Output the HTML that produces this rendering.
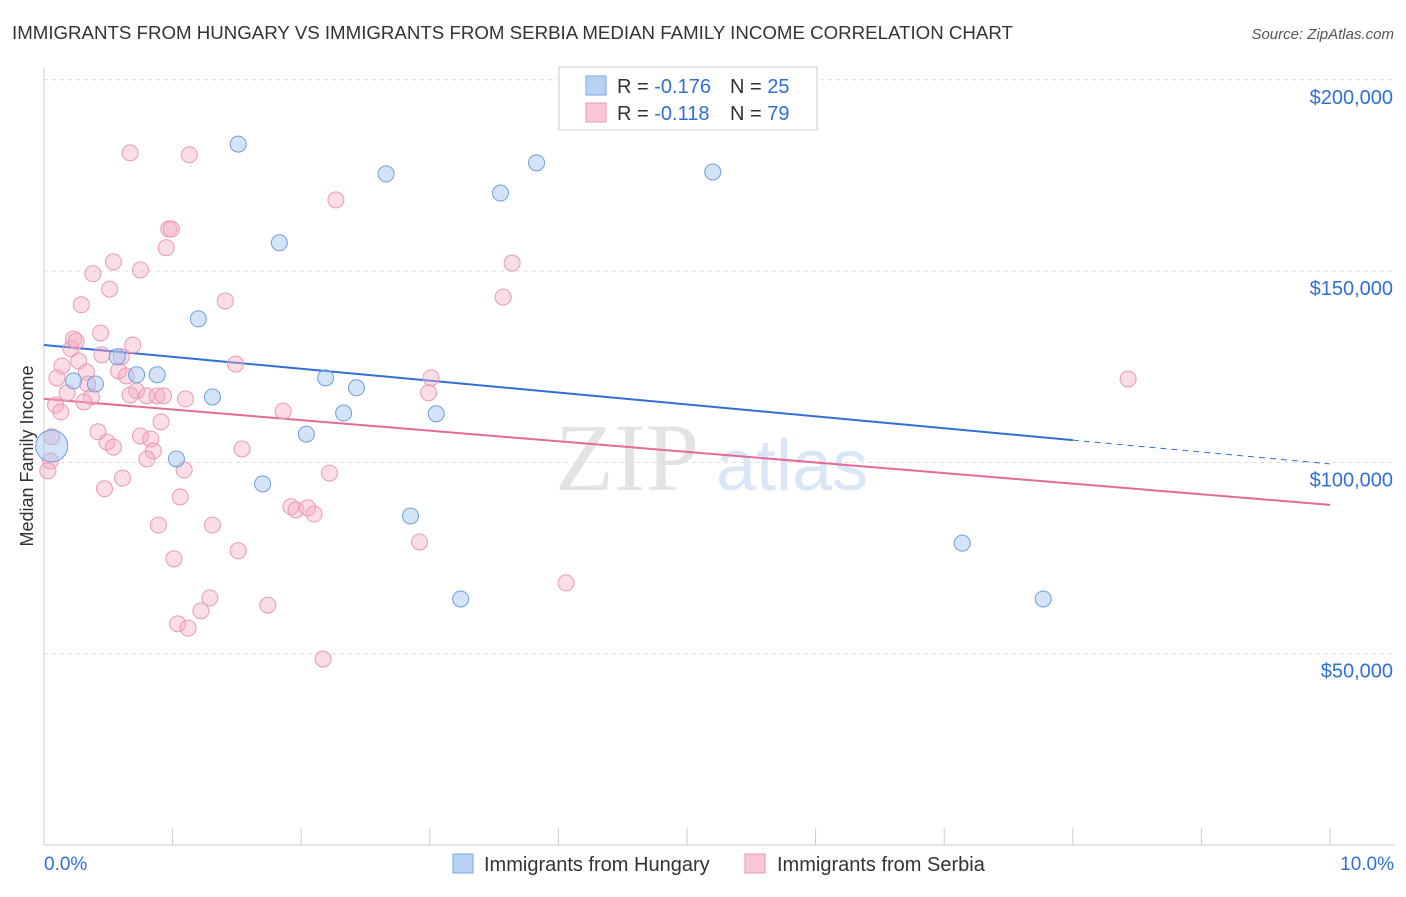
<!DOCTYPE html>
<html><head><meta charset="utf-8">
<style>
html,body{margin:0;padding:0;background:#fff;}
body{width:1406px;height:892px;overflow:hidden;font-family:"Liberation Sans",sans-serif;}
</style></head>
<body>
<svg id="chart" width="1406" height="892" xmlns="http://www.w3.org/2000/svg" font-family="Liberation Sans, sans-serif">
<text x="12" y="39" font-size="18.7" fill="#333">IMMIGRANTS FROM HUNGARY VS IMMIGRANTS FROM SERBIA MEDIAN FAMILY INCOME CORRELATION CHART</text>
<text x="1394" y="39" font-size="15" fill="#555" font-style="italic" text-anchor="end">Source: ZipAtlas.com</text>
<g>
<text x="555" y="490" font-size="96" fill="#ddd" font-family="Liberation Serif, serif" opacity="0.8">ZIP</text>
<text x="716" y="490" font-size="72" fill="#c9dcf3" opacity="0.7">atlas</text>
</g>
<text transform="translate(33,456) rotate(-90)" font-size="18" fill="#333" text-anchor="middle">Median Family Income</text>
<g id="grid"></g>
<g id="axes"></g>
<g id="trends"></g>
<g id="points"></g>
<g>
<rect x="559" y="67" width="258" height="63" fill="#fff" stroke="#ccc"/>
<rect x="586" y="76" width="20" height="19" fill="#b8d2f3" stroke="#7aa6df"/>
<rect x="586" y="103" width="20" height="19" fill="#f9c6d6" stroke="#e995b2"/>
<text x="617" y="93" font-size="20" fill="#333">R = <tspan fill="#2f6fd6">-0.176</tspan><tspan x="730">N = </tspan><tspan fill="#2f6fd6">25</tspan></text>
<text x="617" y="120" font-size="20" fill="#333">R = <tspan fill="#2f6fd6"> -0.118</tspan><tspan x="730">N = </tspan><tspan fill="#2f6fd6">79</tspan></text>
</g>
<g>
<rect x="453" y="854" width="20" height="19" fill="#b8d2f3" stroke="#7aa6df"/>
<text x="484" y="871" font-size="20" fill="#333">Immigrants from Hungary</text>
<rect x="745" y="854" width="20" height="19" fill="#f9c6d6" stroke="#e995b2"/>
<text x="777" y="871" font-size="20" fill="#333">Immigrants from Serbia</text>
</g>
</svg>
<script>
const yTicks = [50000, 100000, 150000, 200000];
const yTickLabels = ["$50,000", "$100,000", "$150,000", "$200,000"];
const xTickLabels = ["0.0%", "10.0%"];
const hungaryX = [1.51,1.83,2.66,3.55,3.83,5.20,1.20,0.57,0.72,0.88,0.23,0.40,1.31,2.19,2.43,2.33,3.05,2.04,1.03,1.70,2.85,3.24,7.14,7.77,0.06];
const hungaryY = [183.2,157.4,175.4,170.4,178.3,175.9,137.5,127.6,122.9,122.9,121.3,120.5,117.1,122.1,119.5,112.9,112.7,107.4,100.9,94.4,86.0,64.3,78.9,64.3,104.3];
const serbiaX = [0.67,1.13,2.27,0.97,0.99,0.95,0.54,0.75,0.38,3.64,0.51,3.57,0.29,1.41,0.44,0.23,0.21,0.25,0.69,0.60,0.45,0.27,0.14,1.49,0.58,0.33,0.64,0.10,0.34,3.01,8.43,0.18,0.72,0.67,0.80,0.88,0.93,1.10,2.99,0.37,0.09,0.31,0.13,1.86,0.91,0.42,0.75,0.83,0.49,0.54,0.85,1.54,0.06,0.80,0.05,0.03,2.22,1.09,0.61,0.47,1.06,1.92,1.96,2.05,2.10,0.89,1.31,2.92,1.51,1.01,4.06,1.29,1.74,1.22,1.04,1.12,2.17];
const serbiaY = [180.9,180.4,168.6,161.0,161.0,156.1,152.4,150.3,149.3,152.1,145.3,143.2,141.2,142.2,133.8,132.3,129.7,131.7,130.7,127.6,128.1,126.5,125.2,125.7,123.9,123.6,122.6,122.1,120.5,122.1,121.8,118.2,118.7,117.6,117.4,117.4,117.4,116.6,118.2,117.1,115.0,115.8,113.2,113.4,110.6,108.0,106.9,106.1,105.3,104.0,103.0,103.5,106.7,100.9,100.4,97.8,97.2,98.0,95.9,93.1,91.0,88.4,87.6,88.1,86.5,83.6,83.6,79.2,76.9,74.8,68.5,64.6,62.7,61.2,57.8,56.7,48.6];
const hungaryTrend = [130.7, 99.6];
const serbiaTrend = [116.6, 88.9];

const NS = "http://www.w3.org/2000/svg";
const xs = p => 44 + p * 128.6;
const ys = v => 845 - v / 50000 * 191.3;
const ysk = k => ys(k * 1000);
function mk(tag, attrs, parent){const e=document.createElementNS(NS,tag);for(const k in attrs)e.setAttribute(k,attrs[k]);parent.appendChild(e);return e;}

const grid = document.getElementById('grid');
yTicks.forEach((t,i)=>{
  const g = mk('line',{x1:44,x2:1394,y1:ys(t),y2:ys(t),stroke:'#ddd','stroke-dasharray':'4,4'},grid);
  
  
  const tx = mk('text',{x:1393,y:ys(t)+24,'font-size':20,fill:'#2f6fd6','text-anchor':'end'},grid);
  tx.textContent = yTickLabels[i];
  
  
});
const axes = document.getElementById('axes');
const yAx = mk('line',{x1:44,x2:44,y1:68,y2:845,stroke:'#ccc'},axes);


const xAx = mk('line',{x1:44,x2:1394,y1:845,y2:845,stroke:'#ccc'},axes);


for(let i=0;i<=10;i++){
  const tk = mk('line',{x1:xs(i),x2:xs(i),y1:828,y2:845,stroke:'#ccc'},axes);
  
  
}
[[0,'start',44],[10,'end',1394]].forEach((d,i)=>{
  const t = mk('text',{x:d[2],y:870,'font-size':19,fill:'#2f6fd6','text-anchor':d[1]},axes);
  t.textContent = xTickLabels[i];
  
  
});

const pts = document.getElementById('points');
serbiaX.forEach((x,i)=>{
  const c = mk('circle',{cx:xs(x),cy:ysk(serbiaY[i]),r:8,fill:'rgba(245,170,196,0.4)',stroke:'#eb98b5','stroke-width':1},pts);
  
  
});
hungaryX.forEach((x,i)=>{
  const big = i === hungaryX.length-1;
  const c = mk('circle',{cx:xs(x),cy:ysk(hungaryY[i]),r:big?16:8,fill:'rgba(160,195,240,0.45)',stroke:'#6e9edc','stroke-width':1},pts);
  
  
});

const tr = document.getElementById('trends');
const hEnd = 8.0;
const hAt = p => hungaryTrend[0] + (hungaryTrend[1]-hungaryTrend[0]) * p/10;
const l1 = mk('line',{x1:xs(0),y1:ysk(hAt(0)),x2:xs(hEnd),y2:ysk(hAt(hEnd)),stroke:'#2f6fd6','stroke-width':2},tr);


const l2 = mk('line',{x1:xs(hEnd),y1:ysk(hAt(hEnd)),x2:xs(10),y2:ysk(hAt(10)),stroke:'#2f6fd6','stroke-width':1,'stroke-dasharray':'6,5'},tr);


const l3 = mk('line',{x1:xs(0),y1:ysk(serbiaTrend[0]),x2:xs(10),y2:ysk(serbiaTrend[1]),stroke:'#e56a95','stroke-width':2},tr);


</script>
</body></html>
